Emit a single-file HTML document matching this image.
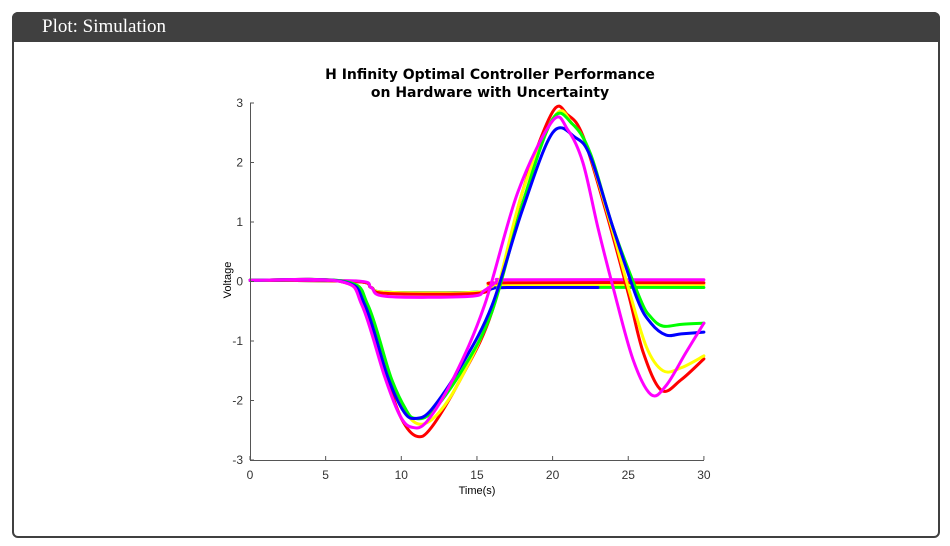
<!DOCTYPE html>
<html><head><meta charset="utf-8"><style>
body{margin:0;width:950px;height:546px;background:#fff;font-family:"Liberation Sans",sans-serif;position:relative;overflow:hidden}
.box{position:absolute;left:12px;top:12px;width:924px;height:522px;border:2px solid #404040;border-radius:6px;}
.hdr{position:absolute;left:12px;top:12px;width:928px;height:30px;background:#404040;border-radius:6px 6px 0 0;color:#fff;font-family:"Liberation Serif",serif;font-size:19px;line-height:30px;}
.hdr span{margin-left:30px}
svg{position:absolute;left:0;top:0}
</style></head><body>
<div class="box"></div>
<div class="hdr"><span>Plot: Simulation</span></div>
<svg width="950" height="546" id="s">
<text x="490" y="79" text-anchor="middle" font-weight="bold" font-size="14" font-family="DejaVu Sans,sans-serif">H Infinity Optimal Controller Performance</text>
<text x="490" y="97" text-anchor="middle" font-weight="bold" font-size="14" font-family="DejaVu Sans,sans-serif">on Hardware with Uncertainty</text>
<g id="plot" fill="none" stroke-width="3" stroke-linejoin="round" stroke-linecap="round"></g>
<g stroke="#555" stroke-width="1" fill="none">
<path d="M250.5 103V460.5H704"/>
</g>
<g id="ticks" font-size="12" fill="#333" font-family="Liberation Sans,sans-serif"></g>
<text x="477" y="494" text-anchor="middle" font-size="11">Time(s)</text>
<text transform="translate(231,280) rotate(-90)" text-anchor="middle" font-size="11">Voltage</text>
</svg>
<script>
var X=t=>250+15.13*t, Y=v=>281.5-59.5*v;
function path(pts){var p=pts.map(a=>[X(a[0]),Y(a[1])]);var d="M"+p[0][0]+" "+p[0][1];
for(var i=0;i<p.length-1;i++){var p0=p[i-1]||p[i],p1=p[i],p2=p[i+1],p3=p[i+2]||p2;
d+=" C"+(p1[0]+(p2[0]-p0[0])/6)+" "+(p1[1]+(p2[1]-p0[1])/6)+" "+(p2[0]-(p3[0]-p1[0])/6)+" "+(p2[1]-(p3[1]-p1[1])/6)+" "+p2[0]+" "+p2[1];}return d;}
var S=[
["#00ff00",[[0,0.02],[7,0],[8,-0.1],[9,-0.18],[15,-0.18],[16,-0.12],[17,-0.1],[30,-0.1]]],
["#0000ff",[[0,0.02],[7,0],[8,-0.1],[9,-0.18],[15,-0.18],[16,-0.12],[17,-0.1],[23,-0.1]]],
["#ffff00",[[0,0.02],[7,0],[8,-0.1],[9,-0.18],[15,-0.18],[16,-0.08],[17,-0.05],[30,-0.05]]],
["#ff0000",[[0,0.02],[7,0],[8,-0.1],[9,-0.2],[15,-0.2],[16,-0.06],[17,-0.02],[30,-0.02]]],
["#ff00ff",[[0,0.02],[7,0.01],[8,-0.1],[9,-0.25],[14.5,-0.25],[15.5,-0.15],[16.5,0.02],[17.5,0.03],[30,0.03]]],
["#ff0000",[[0,0.02],[6,0],[7.5,-0.4],[9,-1.6],[10,-2.3],[11,-2.6],[12,-2.45],[14,-1.6],[16,-0.5],[18,1.5],[20,2.85],[21,2.8],[22,2.45],[23.5,1.2],[25,-0.2],[26,-1.2],[27.2,-1.83],[28.5,-1.65],[30,-1.3]]],
["#ffff00",[[0,0.02],[6.2,0],[7.7,-0.4],[9.2,-1.6],[10.3,-2.2],[11.3,-2.4],[12.5,-2.2],[14,-1.6],[16,-0.45],[18,1.5],[20.2,2.8],[21.3,2.65],[22.3,2.25],[23.8,1.0],[25,-0.1],[26.2,-1.1],[27.3,-1.5],[28.5,-1.45],[30,-1.25]]],
["#00ff00",[[0,0.02],[6.3,0],[7.8,-0.4],[9.3,-1.6],[10.3,-2.15],[10.9,-2.3],[12,-2.2],[14,-1.5],[16,-0.5],[18,1.3],[20,2.73],[21.3,2.65],[22.5,2.15],[24,0.9],[25.8,-0.3],[26.5,-0.6],[27.3,-0.75],[28.5,-0.72],[30,-0.7]]],
["#0000ff",[[0,0.02],[6.1,0],[7.6,-0.4],[9.1,-1.6],[10.2,-2.2],[11,-2.3],[12,-2.15],[14,-1.4],[16,-0.4],[18,1.2],[20,2.5],[21.5,2.42],[22.5,2.1],[24,0.9],[25.6,-0.3],[26.5,-0.7],[27.5,-0.9],[28.5,-0.88],[30,-0.85]]],
["#ff00ff",[[0,0.02],[6,0],[7.4,-0.4],[8.9,-1.6],[9.9,-2.25],[10.7,-2.45],[11.7,-2.35],[13.5,-1.6],[15.5,-0.4],[17.7,1.5],[20,2.7],[21,2.55],[22,2.0],[23,0.9],[24,-0.1],[25.3,-1.3],[26.5,-1.9],[27.5,-1.75],[28.8,-1.2],[30,-0.7]]]
];
var g=document.getElementById("plot"),h="";
S.forEach(s=>{h+='<path stroke="'+s[0]+'" d="'+path(s[1])+'"/>';});
g.innerHTML=h;
var tk="";
for(var v=-3;v<=3;v++){var y=Y(v);tk+='<line x1="250" x2="254" y1="'+y+'" y2="'+y+'" stroke="#555"/><text x="243" y="'+(y+4)+'" text-anchor="end">'+v+'</text>';}
for(var t=0;t<=30;t+=5){var x=X(t);tk+='<line x1="'+x+'" x2="'+x+'" y1="460" y2="456" stroke="#555"/><text x="'+x+'" y="479" text-anchor="middle">'+t+'</text>';}
document.getElementById("ticks").innerHTML=tk;
</script>
</body></html>
